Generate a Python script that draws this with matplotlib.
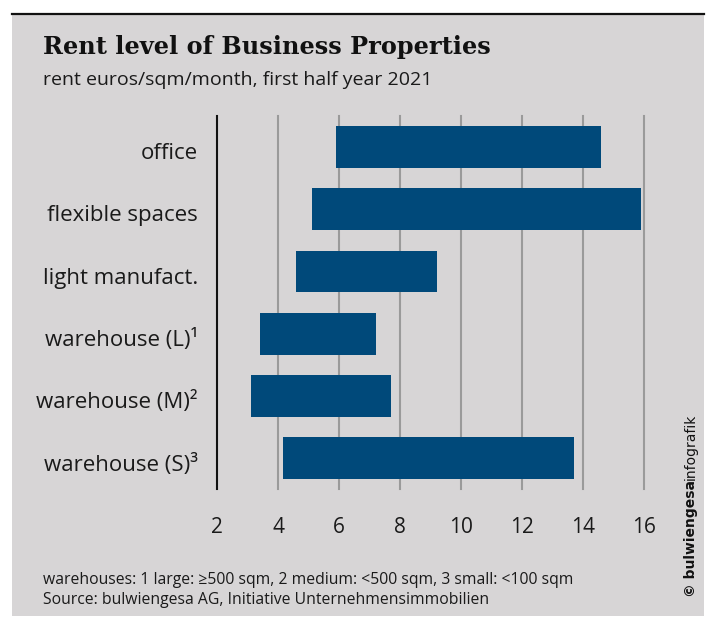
import matplotlib.pyplot as plt
from matplotlib.patches import Rectangle
from matplotlib.lines import Line2D
from matplotlib.transforms import ScaledTranslation

# data
categories = ['office', 'flexible spaces', 'light manufact.',
              'warehouse (L)¹', 'warehouse (M)²', 'warehouse (S)³']
rent_min = [5.9, 5.1, 4.6, 3.4, 3.1, 4.15]
rent_max = [14.6, 15.9, 9.2, 7.2, 7.7, 13.7]
xticks = [2, 4, 6, 8, 10, 12, 14, 16]

body = 'Open Sans'
bg = '#d7d5d6'
bar_color = '#00497a'
txt = '#1a1a1a'

W, H = 709, 617
fig = plt.figure(figsize=(W / 100, H / 100), dpi=100)
fig.patch.set_facecolor('white')

# gray panel + top rule
fig.add_artist(Rectangle((12 / W, 1 - 616 / H), 692 / W, 602 / H, transform=fig.transFigure,
                         facecolor=bg, edgecolor='none', zorder=0))
fig.add_artist(Line2D([12 / W, 704 / W], [1 - 14 / H] * 2, transform=fig.transFigure,
                      color='#111111', lw=1.6))

ax = fig.add_axes([217.3 / W, 1 - 489.3 / H, 426.4 / W, 373.3 / H])
ax.set_facecolor('none')

ypos = list(range(len(categories)))
widths = [b - a for a, b in zip(rent_min, rent_max)]
ax.barh(ypos, widths, left=rent_min, height=0.67, color=bar_color, zorder=3)

ax.set_xlim(xticks[0], xticks[-1])
ax.set_ylim(len(categories) - 0.5, -0.5)
for x in xticks:
    c = '#111111' if x == xticks[0] else '#9a9a9a'
    ax.axvline(x, color=c, lw=1.5, clip_on=False, zorder=1)

for s in ax.spines.values():
    s.set_visible(False)
ax.set_xticks(xticks)
ax.set_xticklabels([str(x) for x in xticks], fontsize=15, fontfamily=body, color=txt)
ax.set_yticks(ypos)
ax.set_yticklabels(categories, fontsize=16, fontfamily=body, color=txt)
ax.tick_params(axis='x', length=0, pad=20)
ax.tick_params(axis='y', length=0, pad=14)
# labels sit a little below the bar centre in the original
shift = ScaledTranslation(0, -4 / 100, fig.dpi_scale_trans)
for lab in ax.get_yticklabels():
    lab.set_transform(lab.get_transform() + shift)

fig.text(43 / W, 1 - 47 / H, 'Rent level of Business Properties', fontsize=17.3,
         fontweight='bold', fontfamily='DejaVu Serif', color='#111111', va='center')
fig.text(43 / W, 1 - 80 / H, 'rent euros/sqm/month, first half year 2021', fontsize=14,
         fontfamily=body, color=txt, va='center')
fig.text(43 / W, 1 - 580 / H,
         'warehouses: 1 large: ≥500 sqm, 2 medium: <500 sqm, 3 small: <100 sqm',
         fontsize=11.3, fontfamily=body, color=txt, va='center')
fig.text(43 / W, 1 - 600 / H, 'Source: bulwiengesa AG, Initiative Unternehmensimmobilien',
         fontsize=11.3, fontfamily=body, color=txt, va='center')

# vertical credit
fig.canvas.draw()
r = fig.canvas.get_renderer()
t1 = fig.text(691 / W, 1 - 597 / H, '© bulwiengesa', rotation=90, fontsize=10,
              fontweight='bold', fontfamily='DejaVu Sans', ha='center', va='bottom',
              color='#111111')
bb = t1.get_window_extent(r)
fig.text(691 / W, bb.y1 / H, 'infografik', rotation=90, fontsize=10,
         fontfamily='DejaVu Sans', ha='center', va='bottom', color='#111111')

fig.savefig('out.png', dpi=100)
